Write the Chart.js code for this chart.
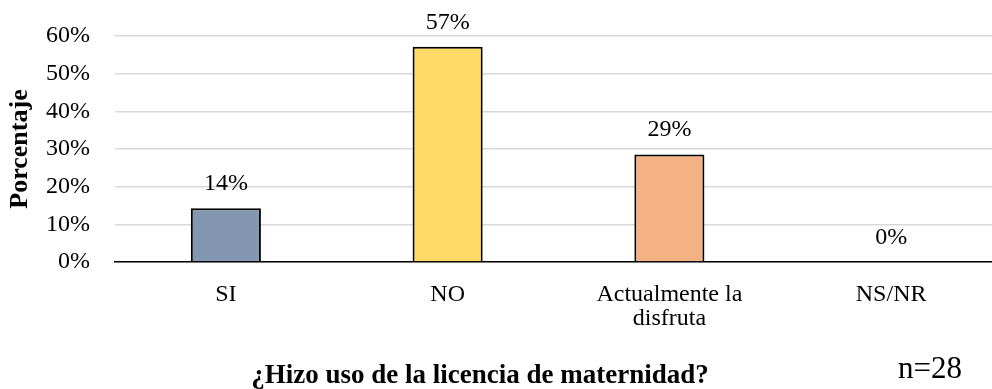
<!DOCTYPE html>
<html>
<head>
<meta charset="utf-8">
<script src="https://cdn.jsdelivr.net/npm/chart.js@4/dist/chart.umd.min.js"></script>
<style>
  html, body { margin: 0; padding: 0; background: #fff; overflow: hidden; }
  #wrap { position: relative; width: 1004px; height: 389px; }
</style>
</head>
<body>
<div id="wrap"><canvas id="licencia"></canvas></div>
<script>
// respuestas (n=28), en porcentaje
const categorias = ['SI', 'NO', ['Actualmente la', 'disfruta'], 'NS/NR']
const porcentajes = [14.29, 57.14, 28.57, 0]
const colores = ['#8497B0', '#FFD966', '#F4B183', '#A9D18E']
const ticksY = [0, 10, 20, 30, 40, 50, 60]
const tituloX = '¿Hizo uso de la licencia de maternidad?'
const muestra = 'n=28'

const serif = "'Liberation Serif', 'Times New Roman', serif"

// etiqueta de valor encima de cada barra
const etiquetas = {
    id: 'etiquetas',
    afterDatasetsDraw (chart) {
        const ctx = chart.ctx
        const meta = chart.getDatasetMeta(0)
        ctx.save()
        ctx.font = '24px ' + serif
        ctx.fillStyle = '#000'
        ctx.textAlign = 'center'
        ctx.textBaseline = 'alphabetic'
        meta.data.forEach((bar, i) => {
            ctx.fillText(Math.round(porcentajes[i]) + '%', bar.x, bar.y - 18)
        })
        ctx.restore()
    }
}

// título del eje x y tamaño de la muestra, en la franja inferior
const pie = {
    id: 'pie',
    afterDraw (chart) {
        const ctx = chart.ctx
        const fondo = chart.height
        ctx.save()
        ctx.fillStyle = '#000'
        ctx.textBaseline = 'alphabetic'
        ctx.textAlign = 'center'
        ctx.font = 'bold 27px ' + serif
        ctx.fillText(tituloX, 480, fondo - 6)
        ctx.textAlign = 'left'
        ctx.font = '31px ' + serif
        ctx.fillText(muestra, 898, fondo - 11)
        ctx.restore()
    }
}

new Chart(document.getElementById('licencia'), {
    type: 'bar',
    data: {
        labels: categorias,
        datasets: [{
            data: porcentajes,
            backgroundColor: colores,
            borderColor: '#000',
            borderWidth: 2,
            borderSkipped: 'bottom',
            categoryPercentage: 1,
            barPercentage: 0.316
        }]
    },
    options: {
        responsive: true,
        maintainAspectRatio: false,
        animation: false,
        layout: { padding: { top: 36, left: 5, right: 2, bottom: 0 } },
        plugins: {
            legend: { display: false },
            tooltip: { enabled: false }
        },
        scales: {
            x: {
                grid: { display: false, drawTicks: false },
                border: { display: true, color: '#000', width: 1.5 },
                ticks: {
                    color: '#000',
                    font: { family: serif, size: 24, lineHeight: 1.0 },
                    padding: 21,
                    maxRotation: 0
                },
                afterFit (axis) { axis.height = 127 }
            },
            y: {
                min: 0,
                max: 60,
                afterBuildTicks (axis) {
                    axis.ticks = ticksY.map(v => ({ value: v }))
                },
                grid: { color: '#d9d9d9', lineWidth: 1.5, drawTicks: false },
                border: { display: false },
                ticks: {
                    color: '#000',
                    font: { family: serif, size: 24 },
                    padding: 25,
                    callback: v => v + '%'
                },
                title: {
                    display: true,
                    text: 'Porcentaje',
                    color: '#000',
                    font: { family: serif, size: 26, weight: 'bold' },
                    padding: { top: 0, bottom: 0 }
                },
                afterFit (axis) {
                    axis.width = 110
                    axis.paddingTop = 0
                    axis.paddingBottom = 0
                }
            }
        }
    },
    plugins: [etiquetas, pie]
})
</script>
</body>
</html>
